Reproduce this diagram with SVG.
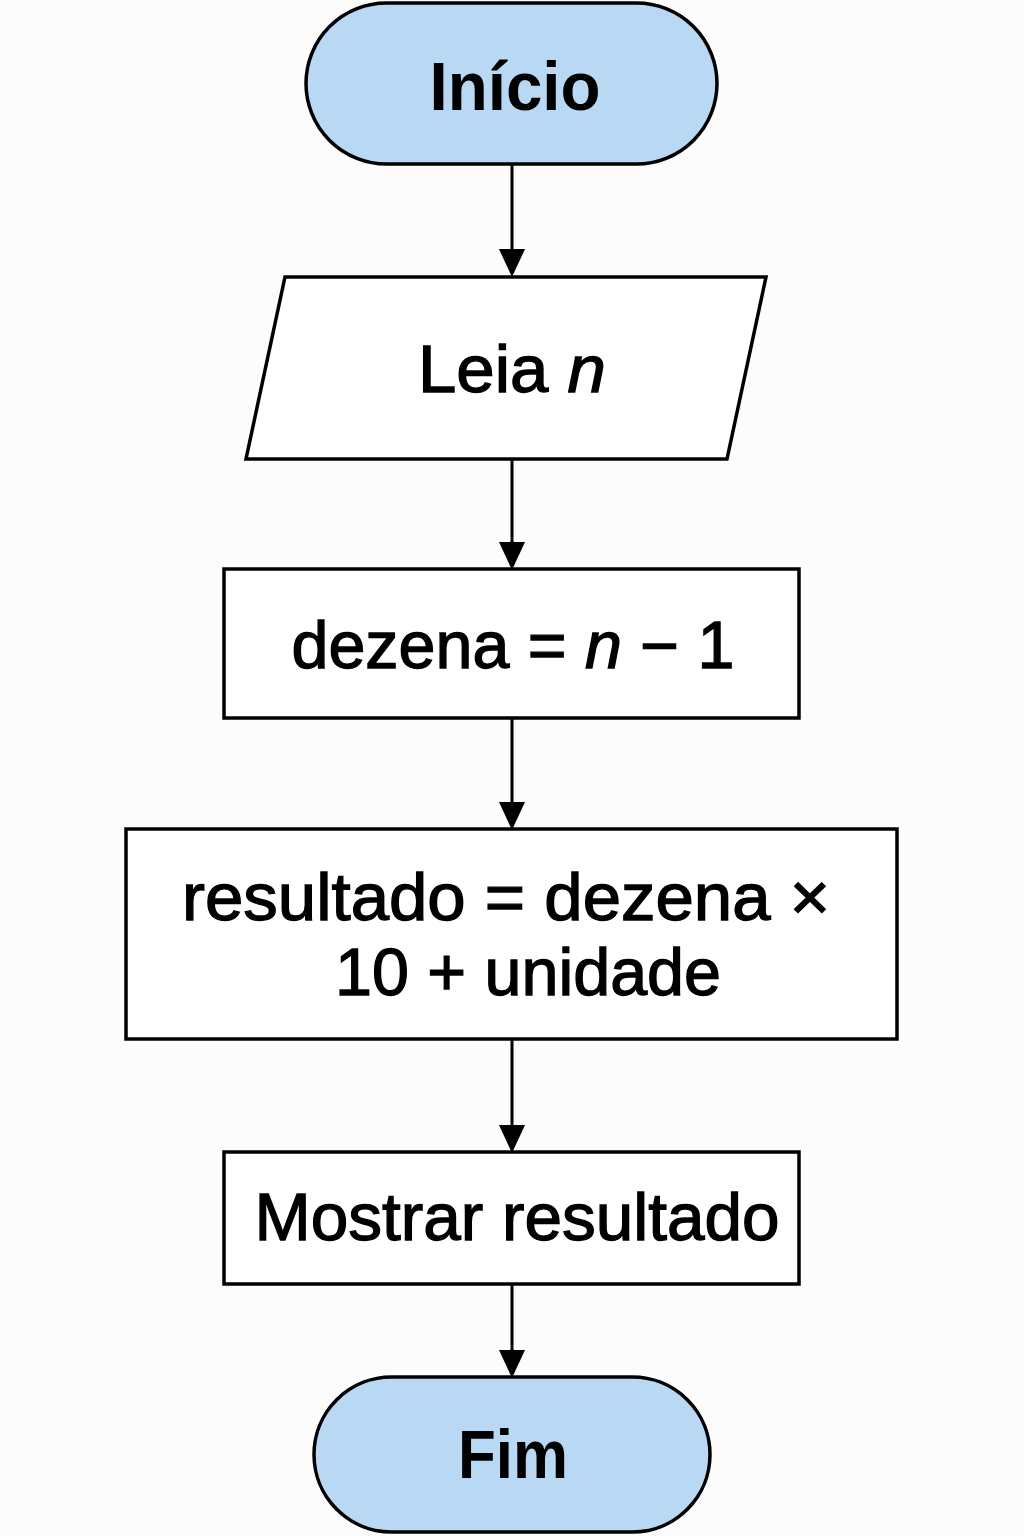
<svg xmlns="http://www.w3.org/2000/svg" width="1024" height="1536" viewBox="0 0 1024 1536">
<defs>
<style>
.shape{stroke:#000;stroke-width:3.5;}
.term{fill:#b8d8f4;}
.box{fill:#fff;}
.t{font-family:"Liberation Sans",Arial,sans-serif;fill:#000;text-anchor:middle;}
.tb{font-weight:bold;font-size:69px;}
.tn{font-size:66px;stroke:#000;stroke-width:1.3;}
.edge{stroke:#000;stroke-width:3;fill:none;}
.head{fill:#000;}
</style>
</defs>
<rect width="1024" height="1536" fill="#fcfcfc"/>
<g id="connectors">
<line class="edge" x1="512" y1="164" x2="512" y2="252"/>
<polygon class="head" points="499,249 525,249 512,277"/>
<line class="edge" x1="512" y1="459" x2="512" y2="545"/>
<polygon class="head" points="499,542 525,542 512,570"/>
<line class="edge" x1="512" y1="718" x2="512" y2="805"/>
<polygon class="head" points="499,802 525,802 512,830"/>
<line class="edge" x1="512" y1="1039" x2="512" y2="1128"/>
<polygon class="head" points="499,1125 525,1125 512,1153"/>
<line class="edge" x1="512" y1="1284" x2="512" y2="1353"/>
<polygon class="head" points="499,1350 525,1350 512,1378"/>
</g>
<g id="inicio">
<rect class="shape term" x="306" y="3" width="411" height="161" rx="80.5" ry="80.5"/>
<text class="t tb" x="515" y="110" textLength="171" lengthAdjust="spacingAndGlyphs">Início</text>
</g>
<g id="leia">
<polygon class="shape box" points="285,277 766,277 727,459 246,459"/>
<text class="t tn" x="512" y="392" textLength="188" lengthAdjust="spacingAndGlyphs">Leia <tspan font-style="italic">n</tspan></text>
</g>
<g id="dezena">
<rect class="shape box" x="224" y="569" width="575" height="149"/>
<text class="t tn" x="513" y="668" textLength="443" lengthAdjust="spacingAndGlyphs">dezena = <tspan font-style="italic">n</tspan> − 1</text>
</g>
<g id="resultado">
<rect class="shape box" x="126" y="829" width="771" height="210"/>
<text class="t tn" x="506" y="920" textLength="648" lengthAdjust="spacingAndGlyphs">resultado = dezena ×</text>
<text class="t tn" x="528" y="995" textLength="386" lengthAdjust="spacingAndGlyphs">10 + unidade</text>
</g>
<g id="mostrar">
<rect class="shape box" x="224" y="1152" width="575" height="132"/>
<text class="t tn" x="517" y="1240" textLength="525" lengthAdjust="spacingAndGlyphs">Mostrar resultado</text>
</g>
<g id="fim">
<rect class="shape term" x="314" y="1377" width="396" height="155" rx="77.5" ry="77.5"/>
<text class="t tb" x="513" y="1478" textLength="110" lengthAdjust="spacingAndGlyphs">Fim</text>
</g>
</svg>
